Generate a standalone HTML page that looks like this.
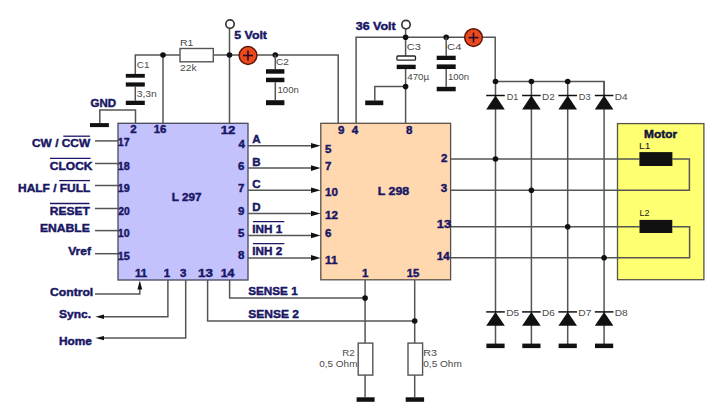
<!DOCTYPE html>
<html><head><meta charset="utf-8"><style>
html,body{margin:0;padding:0;background:#fff;width:720px;height:420px;overflow:hidden}
svg{display:block}
text{font-family:"Liberation Sans",sans-serif}
</style></head><body>
<svg width="720" height="420" viewBox="0 0 720 420">
<rect width="720" height="420" fill="#fff"/>
<rect x="118" y="123.3" width="130.00" height="156.70" fill="#c4c2fc" stroke="#48485a" stroke-width="1.3"/>
<rect x="320.8" y="123.3" width="129.80" height="156.50" fill="#ffd8b0" stroke="#5a5048" stroke-width="1.3"/>
<rect x="617.5" y="123.6" width="86.40" height="156.10" fill="#ffff72" stroke="#55554a" stroke-width="1.3"/>
<polyline points="135.3,74 135.3,55 338.2,55 338.2,123.3" fill="none" stroke="#555555" stroke-width="1.5"/>
<line x1="135.3" y1="86.6" x2="135.3" y2="100.7" stroke="#555555" stroke-width="1.5"/>
<rect x="125.8" y="73.9" width="19.00" height="3.80" fill="#111"/>
<rect x="125.8" y="82.4" width="19.00" height="4.20" fill="#111"/>
<rect x="125.8" y="100.7" width="19.00" height="4.30" fill="#111"/>
<line x1="163" y1="55" x2="163" y2="123.3" stroke="#555555" stroke-width="1.5"/>
<rect x="180" y="48.5" width="33.30" height="13.30" fill="#fff" stroke="#555555" stroke-width="1.4"/>
<line x1="229.5" y1="28.8" x2="229.5" y2="123.3" stroke="#555555" stroke-width="1.5"/>
<circle cx="230" cy="24.1" r="4.2" fill="#fff" stroke="#383838" stroke-width="1.7"/>
<circle cx="163" cy="55" r="2.8" fill="#111"/>
<circle cx="229.5" cy="55" r="2.8" fill="#111"/>
<circle cx="275.3" cy="55" r="2.8" fill="#111"/>
<circle cx="248" cy="55.5" r="8.9" fill="#ea4a1c" stroke="#5a1408" stroke-width="1.5"/>
<line x1="243" y1="55.5" x2="253" y2="55.5" stroke="#2a0c2a" stroke-width="1.6"/>
<line x1="248" y1="50.5" x2="248" y2="60.5" stroke="#2a0c2a" stroke-width="1.6"/>
<line x1="275.3" y1="55" x2="275.3" y2="69.2" stroke="#555555" stroke-width="1.5"/>
<line x1="275.3" y1="82.2" x2="275.3" y2="100.2" stroke="#555555" stroke-width="1.5"/>
<rect x="266" y="69.2" width="18.40" height="4.50" fill="#111"/>
<rect x="266" y="77.7" width="18.40" height="4.50" fill="#111"/>
<rect x="266" y="100.2" width="18.40" height="5.00" fill="#111"/>
<polyline points="99.8,123.2 99.8,110 135.5,110 135.5,123.3" fill="none" stroke="#555555" stroke-width="1.5"/>
<rect x="90" y="123.1" width="18.90" height="4.00" fill="#111"/>
<polyline points="356.1,123.3 356.1,37.2 495.2,37.2 495.2,81.5 604.1,81.5 604.1,95.5" fill="none" stroke="#555555" stroke-width="1.5"/>
<circle cx="406" cy="24.6" r="4.2" fill="#fff" stroke="#383838" stroke-width="1.7"/>
<line x1="405.6" y1="29" x2="405.6" y2="55.7" stroke="#555555" stroke-width="1.5"/>
<rect x="396.9" y="56" width="18.6" height="4.2" rx="1" fill="#fff" stroke="#222" stroke-width="1.3"/>
<rect x="396.7" y="64.7" width="19.00" height="4.40" fill="#111"/>
<line x1="405.6" y1="69" x2="405.6" y2="123.3" stroke="#555555" stroke-width="1.5"/>
<circle cx="405.6" cy="37.2" r="2.8" fill="#111"/>
<circle cx="446.2" cy="37.2" r="2.8" fill="#111"/>
<polyline points="405.6,86.6 374.8,86.6 374.8,100.5" fill="none" stroke="#555555" stroke-width="1.5"/>
<rect x="365.2" y="100.5" width="18.10" height="4.70" fill="#111"/>
<circle cx="405.6" cy="86.6" r="2.8" fill="#111"/>
<line x1="446.2" y1="37.2" x2="446.2" y2="55.7" stroke="#555555" stroke-width="1.5"/>
<rect x="436.7" y="55.7" width="19.00" height="4.30" fill="#111"/>
<rect x="436.7" y="64.4" width="19.00" height="4.60" fill="#111"/>
<line x1="446.2" y1="69" x2="446.2" y2="86.8" stroke="#555555" stroke-width="1.5"/>
<rect x="436.7" y="86.8" width="19.00" height="4.50" fill="#111"/>
<circle cx="473.5" cy="37.6" r="8.8" fill="#ea4a1c" stroke="#5a1408" stroke-width="1.5"/>
<line x1="468.5" y1="37.6" x2="478.5" y2="37.6" stroke="#2a0c2a" stroke-width="1.6"/>
<line x1="473.5" y1="32.6" x2="473.5" y2="42.6" stroke="#2a0c2a" stroke-width="1.6"/>
<line x1="495.5" y1="81.5" x2="495.5" y2="345" stroke="#555555" stroke-width="1.5"/>
<line x1="486.2" y1="95.5" x2="504.8" y2="95.5" stroke="#111" stroke-width="1.5"/>
<polygon points="495.5,95.5 486.2,109.5 504.8,109.5" fill="#111"/>
<line x1="486.2" y1="311.9" x2="504.8" y2="311.9" stroke="#111" stroke-width="1.5"/>
<polygon points="495.5,311.9 486.2,325.7 504.8,325.7" fill="#111"/>
<rect x="486.4" y="343.6" width="18.20" height="4.50" fill="#111"/>
<circle cx="495.5" cy="81.5" r="2.8" fill="#111"/>
<line x1="531.4" y1="81.5" x2="531.4" y2="345" stroke="#555555" stroke-width="1.5"/>
<line x1="522.1" y1="95.5" x2="540.6999999999999" y2="95.5" stroke="#111" stroke-width="1.5"/>
<polygon points="531.4,95.5 522.1,109.5 540.6999999999999,109.5" fill="#111"/>
<line x1="522.1" y1="311.9" x2="540.6999999999999" y2="311.9" stroke="#111" stroke-width="1.5"/>
<polygon points="531.4,311.9 522.1,325.7 540.6999999999999,325.7" fill="#111"/>
<rect x="522.3" y="343.6" width="18.20" height="4.50" fill="#111"/>
<circle cx="531.4" cy="81.5" r="2.8" fill="#111"/>
<line x1="567.7" y1="81.5" x2="567.7" y2="345" stroke="#555555" stroke-width="1.5"/>
<line x1="558.4000000000001" y1="95.5" x2="577.0" y2="95.5" stroke="#111" stroke-width="1.5"/>
<polygon points="567.7,95.5 558.4000000000001,109.5 577.0,109.5" fill="#111"/>
<line x1="558.4000000000001" y1="311.9" x2="577.0" y2="311.9" stroke="#111" stroke-width="1.5"/>
<polygon points="567.7,311.9 558.4000000000001,325.7 577.0,325.7" fill="#111"/>
<rect x="558.6" y="343.6" width="18.20" height="4.50" fill="#111"/>
<circle cx="567.7" cy="81.5" r="2.8" fill="#111"/>
<line x1="604.1" y1="81.5" x2="604.1" y2="345" stroke="#555555" stroke-width="1.5"/>
<line x1="594.8000000000001" y1="95.5" x2="613.4" y2="95.5" stroke="#111" stroke-width="1.5"/>
<polygon points="604.1,95.5 594.8000000000001,109.5 613.4,109.5" fill="#111"/>
<line x1="594.8000000000001" y1="311.9" x2="613.4" y2="311.9" stroke="#111" stroke-width="1.5"/>
<polygon points="604.1,311.9 594.8000000000001,325.7 613.4,325.7" fill="#111"/>
<rect x="595.0" y="343.6" width="18.20" height="4.50" fill="#111"/>
<polyline points="450.6,159 639.4,159" fill="none" stroke="#555555" stroke-width="1.5"/>
<polyline points="672.4,159 689.4,159 689.4,190.3 450.6,190.3" fill="none" stroke="#555555" stroke-width="1.5"/>
<polyline points="450.6,226.8 639.5,226.8" fill="none" stroke="#555555" stroke-width="1.5"/>
<polyline points="672.3,226.8 689.6,226.8 689.6,257.8 450.6,257.8" fill="none" stroke="#555555" stroke-width="1.5"/>
<rect x="639.4" y="152.1" width="33.00" height="13.90" fill="#111"/>
<rect x="639.5" y="219.9" width="32.80" height="13.10" fill="#111"/>
<circle cx="495.5" cy="159" r="2.8" fill="#111"/>
<circle cx="531.4" cy="190.3" r="2.8" fill="#111"/>
<circle cx="567.7" cy="226.8" r="2.8" fill="#111"/>
<circle cx="604.1" cy="257.8" r="2.8" fill="#111"/>
<line x1="95" y1="140.9" x2="118" y2="140.9" stroke="#555555" stroke-width="1.5"/>
<line x1="95" y1="163.5" x2="118" y2="163.5" stroke="#555555" stroke-width="1.5"/>
<line x1="95" y1="185.5" x2="118" y2="185.5" stroke="#555555" stroke-width="1.5"/>
<line x1="95" y1="208.5" x2="118" y2="208.5" stroke="#555555" stroke-width="1.5"/>
<line x1="95" y1="230.6" x2="118" y2="230.6" stroke="#555555" stroke-width="1.5"/>
<line x1="95" y1="253.7" x2="118" y2="253.7" stroke="#555555" stroke-width="1.5"/>
<polyline points="95,294.1 139.8,294.1 139.8,289" fill="none" stroke="#555555" stroke-width="1.5"/>
<polygon points="139.8,280.6 137.4,289.4 142.2,289.4" fill="#111"/>
<polyline points="103,316.7 167.9,316.7 167.9,280" fill="none" stroke="#555555" stroke-width="1.5"/>
<polygon points="95.4,316.7 104,314.5 104,318.9" fill="#111"/>
<polyline points="103,338.1 185.7,338.1 185.7,280" fill="none" stroke="#555555" stroke-width="1.5"/>
<polygon points="95.4,338.1 104,335.9 104,340.3" fill="#111"/>
<polyline points="207.6,280 207.6,321 414.7,321" fill="none" stroke="#555555" stroke-width="1.5"/>
<polyline points="229.6,280 229.6,298.1 365.1,298.1" fill="none" stroke="#555555" stroke-width="1.5"/>
<line x1="248" y1="145.8" x2="312" y2="145.8" stroke="#555555" stroke-width="1.5"/>
<polygon points="320.5,145.8 311,143.0 311,148.60000000000002" fill="#111"/>
<line x1="248" y1="168.1" x2="312" y2="168.1" stroke="#555555" stroke-width="1.5"/>
<polygon points="320.5,168.1 311,165.29999999999998 311,170.9" fill="#111"/>
<line x1="248" y1="190.2" x2="312" y2="190.2" stroke="#555555" stroke-width="1.5"/>
<polygon points="320.5,190.2 311,187.39999999999998 311,193.0" fill="#111"/>
<line x1="248" y1="213.5" x2="312" y2="213.5" stroke="#555555" stroke-width="1.5"/>
<polygon points="320.5,213.5 311,210.7 311,216.3" fill="#111"/>
<line x1="248" y1="235.4" x2="312" y2="235.4" stroke="#555555" stroke-width="1.5"/>
<polygon points="320.5,235.4 311,232.6 311,238.20000000000002" fill="#111"/>
<line x1="248" y1="257.9" x2="312" y2="257.9" stroke="#555555" stroke-width="1.5"/>
<polygon points="320.5,257.9 311,255.09999999999997 311,260.7" fill="#111"/>
<line x1="365.1" y1="280" x2="365.1" y2="397.3" stroke="#555555" stroke-width="1.5"/>
<line x1="414.7" y1="280" x2="414.7" y2="397.3" stroke="#555555" stroke-width="1.5"/>
<rect x="358.2" y="343.1" width="14.60" height="32.00" fill="#fff" stroke="#555555" stroke-width="1.4"/>
<rect x="408" y="343.1" width="14.60" height="32.00" fill="#fff" stroke="#555555" stroke-width="1.4"/>
<rect x="356.6" y="397.3" width="18.00" height="4.50" fill="#111"/>
<rect x="405.7" y="397.3" width="18.40" height="4.50" fill="#111"/>
<circle cx="365.1" cy="298.1" r="2.8" fill="#111"/>
<circle cx="414.7" cy="321" r="2.8" fill="#111"/>
<text id="t0" x="234.25" y="39.48" font-size="11.5" font-weight="bold" fill="#191765" stroke="#191765" stroke-width="0.45" text-anchor="start" textLength="32.74" lengthAdjust="spacingAndGlyphs">5 Volt</text>
<text id="t1" x="355.75" y="29.65" font-size="11.5" font-weight="bold" fill="#191765" stroke="#191765" stroke-width="0.45" text-anchor="start" textLength="39.89" lengthAdjust="spacingAndGlyphs">36 Volt</text>
<text id="t2" x="90.50" y="106.65" font-size="11.5" font-weight="bold" fill="#191765" stroke="#191765" stroke-width="0.45" text-anchor="start">GND</text>
<text id="t3" x="171.75" y="200.53" font-size="11.5" font-weight="bold" fill="#191765" stroke="#191765" stroke-width="0.45" text-anchor="start" textLength="29.68" lengthAdjust="spacingAndGlyphs">L 297</text>
<text id="t4" x="377.75" y="195.44" font-size="11.5" font-weight="bold" fill="#191765" stroke="#191765" stroke-width="0.45" text-anchor="start" textLength="31.38" lengthAdjust="spacingAndGlyphs">L 298</text>
<text id="t5" x="644.00" y="137.75" font-size="11.5" font-weight="bold" fill="#10103a" stroke="#10103a" stroke-width="0.45" text-anchor="start" textLength="33.10" lengthAdjust="spacingAndGlyphs">Motor</text>
<text id="t6" x="32.00" y="147.32" font-size="11.5" font-weight="bold" fill="#191765" stroke="#191765" stroke-width="0.45" text-anchor="start" textLength="58.23" lengthAdjust="spacingAndGlyphs">CW / CCW</text>
<text id="t7" x="49.75" y="169.67" font-size="11.5" font-weight="bold" fill="#191765" stroke="#191765" stroke-width="0.45" text-anchor="start" textLength="42.81" lengthAdjust="spacingAndGlyphs">CLOCK</text>
<text id="t8" x="18.00" y="191.68" font-size="11.5" font-weight="bold" fill="#191765" stroke="#191765" stroke-width="0.45" text-anchor="start" textLength="72.31" lengthAdjust="spacingAndGlyphs">HALF / FULL</text>
<text id="t9" x="49.75" y="214.60" font-size="11.5" font-weight="bold" fill="#191765" stroke="#191765" stroke-width="0.45" text-anchor="start" textLength="39.99" lengthAdjust="spacingAndGlyphs">RESET</text>
<text id="t10" x="40.00" y="232.18" font-size="11.5" font-weight="bold" fill="#191765" stroke="#191765" stroke-width="0.45" text-anchor="start" textLength="49.85" lengthAdjust="spacingAndGlyphs">ENABLE</text>
<text id="t11" x="68.25" y="254.78" font-size="11.5" font-weight="bold" fill="#191765" stroke="#191765" stroke-width="0.45" text-anchor="start" textLength="22.71" lengthAdjust="spacingAndGlyphs">Vref</text>
<text id="t12" x="50.00" y="295.65" font-size="11.5" font-weight="bold" fill="#191765" stroke="#191765" stroke-width="0.45" text-anchor="start" textLength="43.26" lengthAdjust="spacingAndGlyphs">Control</text>
<text id="t13" x="59.00" y="318.10" font-size="11.5" font-weight="bold" fill="#191765" stroke="#191765" stroke-width="0.45" text-anchor="start" textLength="32.02" lengthAdjust="spacingAndGlyphs">Sync.</text>
<text id="t14" x="59.00" y="344.63" font-size="11.5" font-weight="bold" fill="#191765" stroke="#191765" stroke-width="0.45" text-anchor="start" textLength="32.96" lengthAdjust="spacingAndGlyphs">Home</text>
<line x1="63.3" y1="136.2" x2="90" y2="136.2" stroke="#191765" stroke-width="1.3"/>
<line x1="50" y1="158.4" x2="90.6" y2="158.4" stroke="#191765" stroke-width="1.3"/>
<line x1="59.1" y1="180.6" x2="90" y2="180.6" stroke="#191765" stroke-width="1.3"/>
<line x1="50" y1="203.5" x2="89.5" y2="203.5" stroke="#191765" stroke-width="1.3"/>
<line x1="252.9" y1="221.7" x2="284.3" y2="221.7" stroke="#191765" stroke-width="1.3"/>
<line x1="252.9" y1="243.6" x2="284.3" y2="243.6" stroke="#191765" stroke-width="1.3"/>
<text id="t15" x="117.75" y="146.38" font-size="11.5" font-weight="bold" fill="#191765" stroke="#191765" stroke-width="0.45" text-anchor="start" textLength="11.85" lengthAdjust="spacingAndGlyphs">17</text>
<text id="t16" x="117.75" y="169.67" font-size="11.5" font-weight="bold" fill="#191765" stroke="#191765" stroke-width="0.45" text-anchor="start" textLength="11.94" lengthAdjust="spacingAndGlyphs">18</text>
<text id="t17" x="117.75" y="191.68" font-size="11.5" font-weight="bold" fill="#191765" stroke="#191765" stroke-width="0.45" text-anchor="start" textLength="11.94" lengthAdjust="spacingAndGlyphs">19</text>
<text id="t18" x="118.25" y="214.60" font-size="11.5" font-weight="bold" fill="#191765" stroke="#191765" stroke-width="0.45" text-anchor="start" textLength="11.52" lengthAdjust="spacingAndGlyphs">20</text>
<text id="t19" x="117.75" y="236.58" font-size="11.5" font-weight="bold" fill="#191765" stroke="#191765" stroke-width="0.45" text-anchor="start" textLength="11.85" lengthAdjust="spacingAndGlyphs">10</text>
<text id="t20" x="117.75" y="259.55" font-size="11.5" font-weight="bold" fill="#191765" stroke="#191765" stroke-width="0.45" text-anchor="start" textLength="12.13" lengthAdjust="spacingAndGlyphs">15</text>
<text id="t21" x="130.25" y="133.20" font-size="11.5" font-weight="bold" fill="#191765" stroke="#191765" stroke-width="0.45" text-anchor="start">2</text>
<text id="t22" x="153.75" y="133.20" font-size="11.5" font-weight="bold" fill="#191765" stroke="#191765" stroke-width="0.45" text-anchor="start" textLength="12.70" lengthAdjust="spacingAndGlyphs">16</text>
<text id="t23" x="220.75" y="133.55" font-size="11.5" font-weight="bold" fill="#191765" stroke="#191765" stroke-width="0.45" text-anchor="start" textLength="14.67" lengthAdjust="spacingAndGlyphs">12</text>
<text id="t24" x="135.00" y="277.25" font-size="11.5" font-weight="bold" fill="#191765" stroke="#191765" stroke-width="0.45" text-anchor="start">11</text>
<text id="t25" x="163.75" y="277.25" font-size="11.5" font-weight="bold" fill="#191765" stroke="#191765" stroke-width="0.45" text-anchor="start">1</text>
<text id="t26" x="180.00" y="277.25" font-size="11.5" font-weight="bold" fill="#191765" stroke="#191765" stroke-width="0.45" text-anchor="start">3</text>
<text id="t27" x="198.00" y="277.25" font-size="11.5" font-weight="bold" fill="#191765" stroke="#191765" stroke-width="0.45" text-anchor="start" textLength="14.85" lengthAdjust="spacingAndGlyphs">13</text>
<text id="t28" x="220.75" y="277.25" font-size="11.5" font-weight="bold" fill="#191765" stroke="#191765" stroke-width="0.45" text-anchor="start" textLength="13.72" lengthAdjust="spacingAndGlyphs">14</text>
<text id="t29" x="238.50" y="147.55" font-size="11.5" font-weight="bold" fill="#191765" stroke="#191765" stroke-width="0.45" text-anchor="start">4</text>
<text id="t30" x="238.00" y="170.30" font-size="11.5" font-weight="bold" fill="#191765" stroke="#191765" stroke-width="0.45" text-anchor="start">6</text>
<text id="t31" x="238.00" y="192.35" font-size="11.5" font-weight="bold" fill="#191765" stroke="#191765" stroke-width="0.45" text-anchor="start">7</text>
<text id="t32" x="238.00" y="215.30" font-size="11.5" font-weight="bold" fill="#191765" stroke="#191765" stroke-width="0.45" text-anchor="start">9</text>
<text id="t33" x="238.00" y="237.05" font-size="11.5" font-weight="bold" fill="#191765" stroke="#191765" stroke-width="0.45" text-anchor="start">5</text>
<text id="t34" x="238.00" y="259.30" font-size="11.5" font-weight="bold" fill="#191765" stroke="#191765" stroke-width="0.45" text-anchor="start">8</text>
<text id="t35" x="252.25" y="143.28" font-size="11.5" font-weight="bold" fill="#191765" stroke="#191765" stroke-width="0.45" text-anchor="start">A</text>
<text id="t36" x="252.25" y="165.60" font-size="11.5" font-weight="bold" fill="#191765" stroke="#191765" stroke-width="0.45" text-anchor="start">B</text>
<text id="t37" x="252.25" y="188.05" font-size="11.5" font-weight="bold" fill="#191765" stroke="#191765" stroke-width="0.45" text-anchor="start">C</text>
<text id="t38" x="252.25" y="210.55" font-size="11.5" font-weight="bold" fill="#191765" stroke="#191765" stroke-width="0.45" text-anchor="start">D</text>
<text id="t39" x="252.25" y="232.80" font-size="11.5" font-weight="bold" fill="#191765" stroke="#191765" stroke-width="0.45" text-anchor="start" textLength="30.02" lengthAdjust="spacingAndGlyphs">INH 1</text>
<text id="t40" x="252.25" y="254.75" font-size="11.5" font-weight="bold" fill="#191765" stroke="#191765" stroke-width="0.45" text-anchor="start" textLength="29.98" lengthAdjust="spacingAndGlyphs">INH 2</text>
<text id="t41" x="325.00" y="152.55" font-size="11.5" font-weight="bold" fill="#191765" stroke="#191765" stroke-width="0.45" text-anchor="start">5</text>
<text id="t42" x="325.00" y="169.60" font-size="11.5" font-weight="bold" fill="#191765" stroke="#191765" stroke-width="0.45" text-anchor="start">7</text>
<text id="t43" x="325.00" y="196.25" font-size="11.5" font-weight="bold" fill="#191765" stroke="#191765" stroke-width="0.45" text-anchor="start" textLength="12.89" lengthAdjust="spacingAndGlyphs">10</text>
<text id="t44" x="325.00" y="219.30" font-size="11.5" font-weight="bold" fill="#191765" stroke="#191765" stroke-width="0.45" text-anchor="start" textLength="12.89" lengthAdjust="spacingAndGlyphs">12</text>
<text id="t45" x="325.00" y="237.35" font-size="11.5" font-weight="bold" fill="#191765" stroke="#191765" stroke-width="0.45" text-anchor="start">6</text>
<text id="t46" x="325.00" y="264.42" font-size="11.5" font-weight="bold" fill="#191765" stroke="#191765" stroke-width="0.45" text-anchor="start" textLength="12.42" lengthAdjust="spacingAndGlyphs">11</text>
<text id="t47" x="338.00" y="133.60" font-size="11.5" font-weight="bold" fill="#191765" stroke="#191765" stroke-width="0.45" text-anchor="start">9</text>
<text id="t48" x="351.75" y="133.60" font-size="11.5" font-weight="bold" fill="#191765" stroke="#191765" stroke-width="0.45" text-anchor="start">4</text>
<text id="t49" x="406.00" y="133.60" font-size="11.5" font-weight="bold" fill="#191765" stroke="#191765" stroke-width="0.45" text-anchor="start">8</text>
<text id="t50" x="362.00" y="277.30" font-size="11.5" font-weight="bold" fill="#191765" stroke="#191765" stroke-width="0.45" text-anchor="start">1</text>
<text id="t51" x="406.75" y="277.30" font-size="11.5" font-weight="bold" fill="#191765" stroke="#191765" stroke-width="0.45" text-anchor="start" textLength="12.57" lengthAdjust="spacingAndGlyphs">15</text>
<text id="t52" x="441.00" y="161.73" font-size="11.5" font-weight="bold" fill="#191765" stroke="#191765" stroke-width="0.45" text-anchor="start">2</text>
<text id="t53" x="440.75" y="191.80" font-size="11.5" font-weight="bold" fill="#191765" stroke="#191765" stroke-width="0.45" text-anchor="start">3</text>
<text id="t54" x="436.75" y="227.55" font-size="11.5" font-weight="bold" fill="#191765" stroke="#191765" stroke-width="0.45" text-anchor="start" textLength="14.43" lengthAdjust="spacingAndGlyphs">13</text>
<text id="t55" x="436.75" y="259.55" font-size="11.5" font-weight="bold" fill="#191765" stroke="#191765" stroke-width="0.45" text-anchor="start">14</text>
<text id="t56" x="248.25" y="295.40" font-size="11.5" font-weight="bold" fill="#191765" stroke="#191765" stroke-width="0.45" text-anchor="start" textLength="49.41" lengthAdjust="spacingAndGlyphs">SENSE 1</text>
<text id="t57" x="248.25" y="318.25" font-size="11.5" font-weight="bold" fill="#191765" stroke="#191765" stroke-width="0.45" text-anchor="start" textLength="50.62" lengthAdjust="spacingAndGlyphs">SENSE 2</text>
<text id="t58" x="506.75" y="99.60" font-size="9" font-weight="normal" fill="#4a4a4a" text-anchor="start" textLength="11.61" lengthAdjust="spacingAndGlyphs">D1</text>
<text id="t59" x="506.25" y="316.43" font-size="9" font-weight="normal" fill="#4a4a4a" text-anchor="start" textLength="12.95" lengthAdjust="spacingAndGlyphs">D5</text>
<text id="t60" x="542.00" y="99.60" font-size="9" font-weight="normal" fill="#4a4a4a" text-anchor="start" textLength="12.67" lengthAdjust="spacingAndGlyphs">D2</text>
<text id="t61" x="542.00" y="316.43" font-size="9" font-weight="normal" fill="#4a4a4a" text-anchor="start" textLength="12.84" lengthAdjust="spacingAndGlyphs">D6</text>
<text id="t62" x="578.75" y="99.60" font-size="9" font-weight="normal" fill="#4a4a4a" text-anchor="start" textLength="11.81" lengthAdjust="spacingAndGlyphs">D3</text>
<text id="t63" x="578.25" y="316.43" font-size="9" font-weight="normal" fill="#4a4a4a" text-anchor="start" textLength="13.15" lengthAdjust="spacingAndGlyphs">D7</text>
<text id="t64" x="614.75" y="99.60" font-size="9" font-weight="normal" fill="#4a4a4a" text-anchor="start" textLength="12.77" lengthAdjust="spacingAndGlyphs">D4</text>
<text id="t65" x="614.75" y="316.43" font-size="9" font-weight="normal" fill="#4a4a4a" text-anchor="start" textLength="13.03" lengthAdjust="spacingAndGlyphs">D8</text>
<text id="t66" x="180.00" y="45.52" font-size="9" font-weight="normal" fill="#4a4a4a" text-anchor="start" textLength="13.45" lengthAdjust="spacingAndGlyphs">R1</text>
<text id="t67" x="180.00" y="71.47" font-size="9" font-weight="normal" fill="#4a4a4a" text-anchor="start" textLength="16.66" lengthAdjust="spacingAndGlyphs">22k</text>
<text id="t68" x="136.75" y="68.28" font-size="9" font-weight="normal" fill="#4a4a4a" text-anchor="start" textLength="12.69" lengthAdjust="spacingAndGlyphs">C1</text>
<text id="t69" x="136.75" y="96.60" font-size="9" font-weight="normal" fill="#4a4a4a" text-anchor="start" textLength="20.02" lengthAdjust="spacingAndGlyphs">3,3n</text>
<text id="t70" x="276.00" y="64.55" font-size="9" font-weight="normal" fill="#4a4a4a" text-anchor="start" textLength="12.93" lengthAdjust="spacingAndGlyphs">C2</text>
<text id="t71" x="277.50" y="93.42" font-size="9" font-weight="normal" fill="#4a4a4a" text-anchor="start" textLength="21.33" lengthAdjust="spacingAndGlyphs">100n</text>
<text id="t72" x="406.75" y="50.23" font-size="9" font-weight="normal" fill="#4a4a4a" text-anchor="start" textLength="14.14" lengthAdjust="spacingAndGlyphs">C3</text>
<text id="t73" x="407.25" y="79.50" font-size="9" font-weight="normal" fill="#4a4a4a" text-anchor="start" textLength="21.91" lengthAdjust="spacingAndGlyphs">470µ</text>
<text id="t74" x="447.00" y="50.23" font-size="9" font-weight="normal" fill="#4a4a4a" text-anchor="start" textLength="14.49" lengthAdjust="spacingAndGlyphs">C4</text>
<text id="t75" x="448.00" y="80.12" font-size="9" font-weight="normal" fill="#4a4a4a" text-anchor="start" textLength="21.14" lengthAdjust="spacingAndGlyphs">100n</text>
<text id="t76" x="639.00" y="149.43" font-size="9" font-weight="normal" fill="#222" text-anchor="start" textLength="11.29" lengthAdjust="spacingAndGlyphs">L1</text>
<text id="t77" x="639.50" y="216.47" font-size="9" font-weight="normal" fill="#222" text-anchor="start">L2</text>
<text id="t78" x="342.25" y="355.78" font-size="9" font-weight="normal" fill="#4a4a4a" text-anchor="start" textLength="12.51" lengthAdjust="spacingAndGlyphs">R2</text>
<text id="t79" x="319.25" y="366.50" font-size="9" font-weight="normal" fill="#4a4a4a" text-anchor="start" textLength="38.20" lengthAdjust="spacingAndGlyphs">0,5 Ohm</text>
<text id="t80" x="423.25" y="355.62" font-size="9" font-weight="normal" fill="#4a4a4a" text-anchor="start" textLength="13.74" lengthAdjust="spacingAndGlyphs">R3</text>
<text id="t81" x="423.25" y="366.50" font-size="9" font-weight="normal" fill="#4a4a4a" text-anchor="start" textLength="38.60" lengthAdjust="spacingAndGlyphs">0,5 Ohm</text>
</svg>
</body></html>
